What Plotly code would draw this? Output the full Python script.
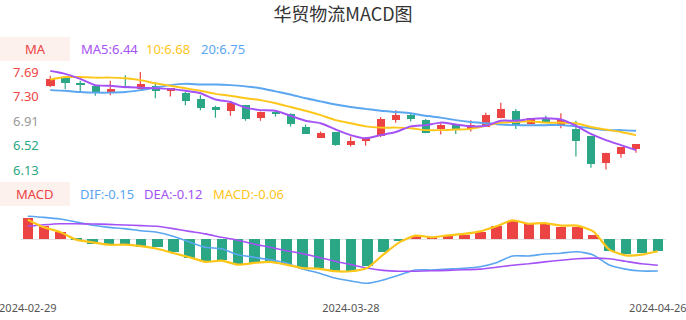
import plotly.graph_objects as go

W, H = 686, 320

dates = ["2024-02-29","2024-03-01","2024-03-04","2024-03-05","2024-03-06","2024-03-07","2024-03-08",
         "2024-03-11","2024-03-12","2024-03-13","2024-03-14","2024-03-15","2024-03-18","2024-03-19",
         "2024-03-20","2024-03-21","2024-03-22","2024-03-25","2024-03-26","2024-03-27","2024-03-28",
         "2024-03-29","2024-04-01","2024-04-02","2024-04-03","2024-04-08","2024-04-09","2024-04-10",
         "2024-04-11","2024-04-12","2024-04-15","2024-04-16","2024-04-17","2024-04-18","2024-04-19",
         "2024-04-22","2024-04-23","2024-04-24","2024-04-25","2024-04-26"]

open_ = [7.46,7.59,7.50,7.47,7.36,7.47,7.41,7.46,7.39,7.36,7.25,7.13,7.07,7.16,6.96,7.05,7.01,6.81,6.64,6.73,
         6.52,6.59,6.66,6.92,7.00,6.92,6.77,6.84,6.78,6.81,6.96,7.06,6.85,6.94,6.84,6.78,6.66,6.23,6.37,6.45]
high = [7.63,7.60,7.55,7.47,7.55,7.64,7.69,7.53,7.43,7.37,7.32,7.15,7.21,7.16,7.06,7.08,7.03,6.85,6.74,6.73,
        6.66,6.65,6.97,7.08,7.03,6.94,6.87,6.84,6.92,7.04,7.20,7.10,6.95,6.99,7.03,6.91,6.67,6.40,6.49,6.54]
low = [7.45,7.42,7.37,7.31,7.32,7.43,7.41,7.27,7.30,7.16,7.08,6.96,6.99,6.91,6.91,6.98,6.82,6.70,6.64,6.51,
       6.50,6.51,6.65,6.88,6.90,6.71,6.69,6.70,6.74,6.81,6.95,6.78,6.85,6.87,6.79,6.34,6.16,6.13,6.32,6.40]
close = [7.57,7.52,7.49,7.36,7.42,7.43,7.50,7.38,7.43,7.23,7.12,7.08,7.20,6.93,7.05,7.01,6.86,6.70,6.72,6.52,
         6.58,6.64,6.93,7.00,6.93,6.72,6.84,6.77,6.84,7.00,7.10,6.82,6.95,6.87,6.92,6.59,6.21,6.40,6.49,6.53]

ma5 = [7.71,7.66,7.58,7.48,7.47,7.45,7.44,7.43,7.42,7.39,7.35,7.25,7.21,7.12,7.08,7.07,6.99,6.91,6.87,6.77,
       6.68,6.63,6.68,6.73,6.82,6.84,6.88,6.85,6.82,6.83,6.91,6.91,6.94,6.95,6.93,6.83,6.70,6.60,6.52,6.44]
ma10 = [7.57,7.61,7.61,7.60,7.60,7.59,7.56,7.51,7.47,7.43,7.39,7.34,7.31,7.27,7.24,7.19,7.13,7.07,7.00,6.92,
        6.87,6.82,6.80,6.80,6.79,6.76,6.76,6.77,6.78,6.83,6.88,6.89,6.90,6.88,6.88,6.87,6.81,6.77,6.73,6.68]
ma20 = [7.40,7.39,7.37,7.36,7.36,7.37,7.40,7.44,7.48,7.50,7.49,7.49,7.48,7.46,7.43,7.38,7.33,7.27,7.22,7.17,
        7.13,7.10,7.07,7.05,7.03,6.99,6.96,6.92,6.89,6.87,6.85,6.84,6.84,6.84,6.84,6.82,6.79,6.76,6.76,6.75]

dif = [0.107,0.102,0.094,0.080,0.065,0.055,0.049,0.039,0.032,0.013,-0.014,-0.039,-0.046,-0.074,-0.086,-0.098,
       -0.113,-0.142,-0.160,-0.184,-0.198,-0.209,-0.193,-0.170,-0.146,-0.146,-0.142,-0.138,-0.131,-0.112,
       -0.080,-0.080,-0.071,-0.067,-0.060,-0.075,-0.123,-0.142,-0.151,-0.151]
dea = [0.060,0.067,0.072,0.072,0.071,0.069,0.066,0.063,0.060,0.049,0.036,0.024,0.008,-0.006,-0.024,-0.039,
       -0.055,-0.069,-0.086,-0.105,-0.121,-0.137,-0.148,-0.152,-0.152,-0.150,-0.148,-0.145,-0.142,-0.133,
       -0.124,-0.117,-0.108,-0.100,-0.093,-0.090,-0.093,-0.105,-0.117,-0.124]
macd = [0.096,0.060,0.033,-0.006,-0.024,-0.027,-0.024,-0.038,-0.039,-0.063,-0.090,-0.105,-0.100,-0.121,-0.113,
        -0.108,-0.121,-0.137,-0.140,-0.152,-0.150,-0.129,-0.063,-0.011,0.013,0.008,0.017,0.020,0.033,0.060,
        0.086,0.071,0.072,0.057,0.057,0.017,-0.058,-0.074,-0.069,-0.058]
macd_curve = [0.091,0.055,0.033,-0.003,-0.016,-0.027,-0.027,-0.034,-0.046,-0.066,-0.086,-0.108,-0.102,-0.121,
              -0.113,-0.108,-0.121,-0.137,-0.140,-0.152,-0.152,-0.137,-0.074,-0.016,0.016,0.008,0.017,0.024,
              0.036,0.060,0.088,0.072,0.075,0.063,0.063,0.036,-0.050,-0.077,-0.074,-0.058]

price_ticks = [7.69, 7.30, 6.91, 6.52, 6.13]
price_tick_colors = ["#EE4545", "#EE4545", "#999999", "#2BA786", "#2BA786"]
date_ticks = ["2024-02-29", "2024-03-28", "2024-04-26"]

RED = "#EC4343"
GREEN = "#2BA786"
PURPLE = "#A452F5"
YELLOW = "#FFC61A"
BLUE = "#5AA6F0"
FONT = "Noto Sans, Noto Sans CJK SC, sans-serif"

def px_x(a):
    return a / W

def px_y(b):
    return 1 - b / H

fig = go.Figure()

# candle bodies
body_base = [min(o, c) for o, c in zip(open_, close)]
body_h = [max(abs(c - o), 0.008) for o, c in zip(open_, close)]
cols = [RED if c >= o else GREEN for o, c in zip(open_, close)]
fig.add_trace(go.Bar(x=dates, y=body_h, base=body_base, width=0.54,
                     marker=dict(color=cols, line=dict(width=0)),
                     xaxis="x", yaxis="y", showlegend=False, hoverinfo="skip"))

# wicks
for col in (RED, GREEN):
    wx, wy = [], []
    for d, o, h, l, c in zip(dates, open_, high, low, close):
        if (RED if c >= o else GREEN) != col:
            continue
        wx += [d, d, None]
        wy += [l, h, None]
    fig.add_trace(go.Scatter(x=wx, y=wy, mode="lines", line=dict(color=col, width=1.2),
                             xaxis="x", yaxis="y", showlegend=False, hoverinfo="skip"))

for series, col in ((ma20, BLUE), (ma10, YELLOW), (ma5, PURPLE)):
    fig.add_trace(go.Scatter(x=dates, y=series, mode="lines",
                             line=dict(color=col, width=2, shape="spline", smoothing=0.6),
                             xaxis="x", yaxis="y", showlegend=False, hoverinfo="skip"))

# MACD panel
mcols = [RED if v >= 0 else GREEN for v in macd]
fig.add_trace(go.Bar(x=dates, y=macd, width=0.65, marker=dict(color=mcols, line=dict(width=0)),
                     xaxis="x2", yaxis="y2", showlegend=False, hoverinfo="skip"))
for series, col, wdt in ((dif, BLUE, 1.6), (dea, PURPLE, 1.6), (macd_curve, YELLOW, 2.2)):
    fig.add_trace(go.Scatter(x=dates, y=series, mode="lines",
                             line=dict(color=col, width=wdt, shape="spline", smoothing=0.6),
                             xaxis="x2", yaxis="y2", showlegend=False, hoverinfo="skip"))

# geometry (pixels)
top_y_rng = [6.10, 7.72]
ppu_top = 62.5
top_px_top = 72 - (top_y_rng[1] - 7.69) * ppu_top
top_px_bot = 72 + (7.69 - top_y_rng[0]) * ppu_top
bot_y_rng = [-0.27, 0.15]
ppu_bot = 212
zero_px = 239
bot_px_top = zero_px - bot_y_rng[1] * ppu_bot
bot_px_bot = zero_px - bot_y_rng[0] * ppu_bot

annotations = []
for v, c in zip(price_ticks, price_tick_colors):
    annotations.append(dict(x=px_x(41), xref="paper", xanchor="right", y=v, yref="y", yanchor="middle",
                            text=f"{v:.2f}", showarrow=False, font=dict(size=13, color=c, family=FONT)))

legend_items = [
    ("MA", 35, 49, RED, "center"),
    ("MA5:6.44", 80, 49, PURPLE, "left"),
    ("10:6.68", 145, 49, YELLOW, "left"),
    ("20:6.75", 200, 49, BLUE, "left"),
    ("MACD", 35, 194, RED, "center"),
    ("DIF:-0.15", 79, 194, BLUE, "left"),
    ("DEA:-0.12", 143, 194, PURPLE, "left"),
    ("MACD:-0.06", 212, 194, YELLOW, "left"),
]
for t, x, y, c, anc in legend_items:
    annotations.append(dict(x=px_x(x), y=px_y(y), xref="paper", yref="paper", xanchor=anc, yanchor="middle",
                            text=t, showarrow=False, borderpad=0, font=dict(size=13, color=c, family=FONT)))

shapes = [
    dict(type="rect", xref="paper", yref="paper", x0=0, x1=px_x(70), y0=px_y(61), y1=px_y(37),
         fillcolor="#FDF1EE", line=dict(width=0), layer="below"),
    dict(type="rect", xref="paper", yref="paper", x0=0, x1=px_x(70), y0=px_y(206), y1=px_y(182),
         fillcolor="#FDF1EE", line=dict(width=0), layer="below"),
]

fig.update_layout(
    width=W, height=H, margin=dict(l=0, r=0, t=0, b=0, autoexpand=False),
    paper_bgcolor="white", plot_bgcolor="white",
    font=dict(family=FONT),
    title=dict(text="华贸物流MACD图", x=0.5, xanchor="center", y=px_y(15), yanchor="middle",
               font=dict(size=18, color="#333333", family="Noto Sans CJK SC, Noto Sans, sans-serif")),
    bargap=0,
    xaxis=dict(domain=[px_x(42.7), px_x(643.5)], type="category", range=[-0.5, 39.5],
               showticklabels=False, showgrid=False, zeroline=False, showline=False, ticks="",
               anchor="y", categoryorder="array", categoryarray=dates, automargin=False),
    yaxis=dict(domain=[px_y(top_px_bot), px_y(top_px_top)], range=top_y_rng, showticklabels=False,
               showgrid=False, zeroline=False, showline=False, ticks="", anchor="x", automargin=False),
    xaxis2=dict(domain=[px_x(19.7), px_x(665.9)], type="category", range=[-0.5, 39.5],
                tickvals=date_ticks, ticktext=date_ticks, showgrid=False, zeroline=False,
                showline=False, ticks="", tickfont=dict(size=11, color="#555555", family=FONT),
                anchor="y2", categoryorder="array", categoryarray=dates, tickangle=0,
                automargin=False, ticklabelstandoff=4),
    yaxis2=dict(domain=[px_y(bot_px_bot), px_y(bot_px_top)], range=bot_y_rng, showticklabels=False,
                showgrid=False, zeroline=True, zerolinecolor="#E3E3E3", zerolinewidth=1,
                showline=False, ticks="", anchor="x2", automargin=False),
    annotations=annotations,
    shapes=shapes,
)

fig.write_html("out.html")
